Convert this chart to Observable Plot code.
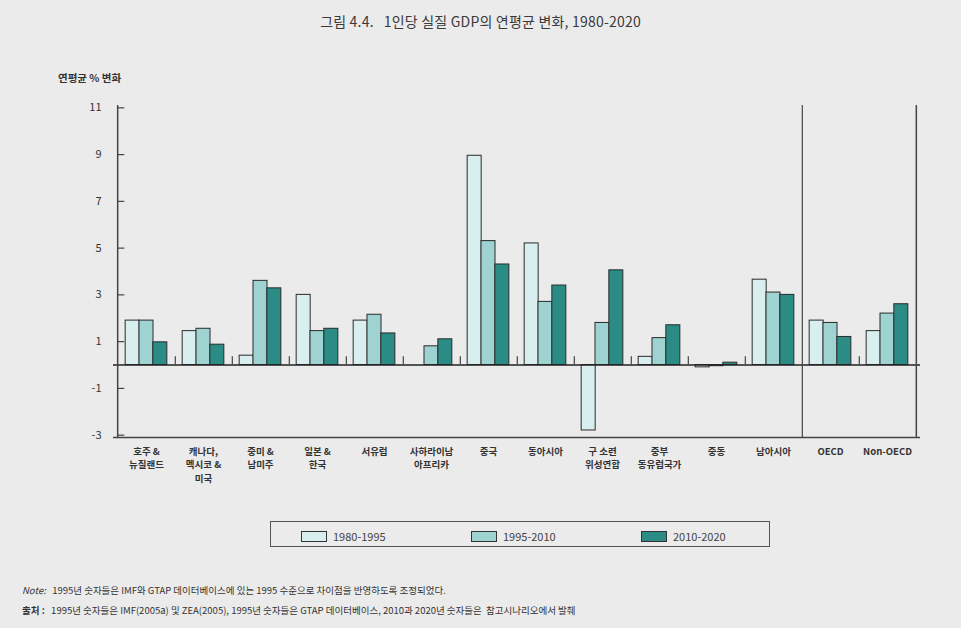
<!DOCTYPE html>
<html>
<head>
<meta charset="utf-8">
<script src="https://cdn.jsdelivr.net/npm/d3@7"></script>
<script src="https://cdn.jsdelivr.net/npm/@observablehq/plot@0.6"></script>
<style>
  html, body { margin: 0; padding: 0; background: #ebebeb; }
  #wrap { position: relative; width: 961px; height: 628px; overflow: hidden; background: #ebebeb;
          font-family: "Noto Sans CJK KR", "Noto Sans", sans-serif; color: #333; }
  #title { position: absolute; top: 11px; left: 0; width: 961px; text-align: center; font-size: 14px; color: #3a3a3a; letter-spacing: 0.2px; }
  #ylabel { position: absolute; top: 70px; left: 58px; font-size: 10.5px; font-weight: 700; color: #333; }
  #chart { position: absolute; top: 60px; left: 0; }
  #legend { position: absolute; left: 270px; top: 521px; width: 498px; height: 24px; border: 1.5px solid #555; }
  .item { position: absolute; top: 6px; font-size: 11px; color: #444; display: flex; align-items: center; }
  .sw { width: 24px; height: 9px; border: 1.2px solid #333; margin-right: 6px; }
  #notes { position: absolute; left: 22px; top: 580px; font-size: 9.5px; color: #333; line-height: 20px; }
  #notes b { font-weight: 700; }
</style>
</head>
<body>
<div id="wrap">
  <div id="title">그림 4.4.&nbsp;&nbsp; 1인당 실질 GDP의 연평균 변화, 1980-2020</div>
  <div id="ylabel">연평균 % 변화</div>
  <div id="chart"></div>
  <div id="legend"></div>
  <div id="notes">
    <div><i>Note:</i>&nbsp;&nbsp; 1995년 숫자들은 IMF와 GTAP 데이터베이스에 있는 1995 수준으로 차이점을 반영하도록 조정되었다.</div>
    <div><b>출처 :</b>&nbsp;&nbsp; 1995년 숫자들은 IMF(2005a) 및 ZEA(2005), 1995년 숫자들은 GTAP 데이터베이스, 2010과 2020년 숫자들은 &nbsp;참고시나리오에서 발췌</div>
  </div>
</div>
<script>
// ---- data ----
const categories = [
  "호주 &\n뉴질랜드", "캐나다,\n멕시코 &\n미국", "중미 &\n남미주", "일본 &\n한국", "서유럽",
  "사하라이남\n아프리카", "중국", "동아시아", "구 소련\n위성연합", "중부\n동유럽국가",
  "중동", "남아시아", "OECD", "Non-OECD"
];
const periods = ["1980-1995", "1995-2010", "2010-2020"];
const values1980_1995 = [1.9, 1.45, 0.4, 3.0, 1.9, 0.0, 8.95, 5.2, -2.8, 0.35, -0.1, 3.65, 1.9, 1.45];
const values1995_2010 = [1.9, 1.55, 3.6, 1.45, 2.15, 0.8, 5.3, 2.7, 1.8, 1.15, -0.05, 3.1, 1.8, 2.2];
const values2010_2020 = [0.97, 0.87, 3.28, 1.55, 1.35, 1.1, 4.3, 3.4, 4.05, 1.7, 0.1, 3.0, 1.2, 2.6];
const yTicks = [-3, -1, 1, 3, 5, 7, 9, 11];
const colors = ["#d9efef", "#9fd3d1", "#2b8b85"];

const series = [values1980_1995, values1995_2010, values2010_2020];
const rows = [];
periods.forEach((p, j) => categories.forEach((c, i) => rows.push({category: c, period: p, value: series[j][i]})));

// ---- layout ----
const W = 961, H = 450;
const mL = 113, mR = 41, mT = 45, mB = 73;
const pInner = 0.76, pOuter = 0.38;
const step = (W - mL - mR) / (categories.length - pInner + 2 * pOuter);
const bw = step * (1 - pInner);
const yMin = -3.1, yMax = 11.1;

const sepIdx = 11;
const gapTickCats = categories.filter((c, i) => i !== sepIdx && i !== categories.length - 1);

const barMarks = periods.map((p, j) => Plot.barY(rows.filter(r => r.period === p), {
  x: "category", y: "value", fill: "period", dx: (j - 1) * bw,
  stroke: "#2a2a2a", strokeWidth: 1
}));

const chart = Plot.plot({
  width: W, height: H,
  marginLeft: mL, marginRight: mR, marginTop: mT, marginBottom: mB,
  style: {background: "transparent", fontFamily: "'Noto Sans CJK KR', 'Noto Sans', sans-serif", color: "#333"},
  x: {type: "band", domain: categories, paddingInner: pInner, paddingOuter: pOuter, label: null},
  y: {domain: [yMin, yMax], label: null},
  color: {domain: periods, range: colors},
  marks: [
    ...barMarks,
    Plot.ruleY([0], {stroke: "#222", strokeWidth: 1.3}),
    Plot.ruleY([yMin], {stroke: "#444", strokeWidth: 1.5}),
    Plot.ruleX([categories[0]], {x: d => d, dx: -step / 2, y1: yMin, y2: yMax, stroke: "#444", strokeWidth: 1.5}),
    Plot.ruleX([categories[categories.length - 1]], {x: d => d, dx: step / 2, y1: yMin, y2: yMax, stroke: "#444", strokeWidth: 1.5}),
    Plot.ruleX([categories[sepIdx]], {x: d => d, dx: step / 2, y1: yMin, y2: yMax, stroke: "#444", strokeWidth: 1.2}),
    Plot.ruleX(gapTickCats, {x: d => d, dx: step / 2, y1: 0, y2: 0.35, stroke: "#444", strokeWidth: 1.2}),
    Plot.tickY(yTicks, {y: d => d, x: () => categories[0], dx: -(step - bw) / 2, insetRight: bw - 7, stroke: "#444", strokeWidth: 1.2}),
    Plot.axisY({ticks: yTicks, tickSize: 0, tickPadding: 12, tickFormat: d => String(d), fontSize: 11, fill: "#333"}),
    Plot.axisX({tickSize: 0, tickPadding: 8, fontSize: 9.5, fontWeight: 700, fill: "#333", lineAnchor: "top", lineHeight: 1.4})
  ]
});
document.getElementById("chart").appendChild(chart);

// ---- legend ----
const legend = document.getElementById("legend");
const offsets = [30, 200, 370];
periods.forEach((p, j) => {
  const it = document.createElement("div");
  it.className = "item";
  it.style.left = offsets[j] + "px";
  it.innerHTML = `<div class="sw" style="background:${colors[j]}"></div><span>${p}</span>`;
  legend.appendChild(it);
});
</script>
</body>
</html>
